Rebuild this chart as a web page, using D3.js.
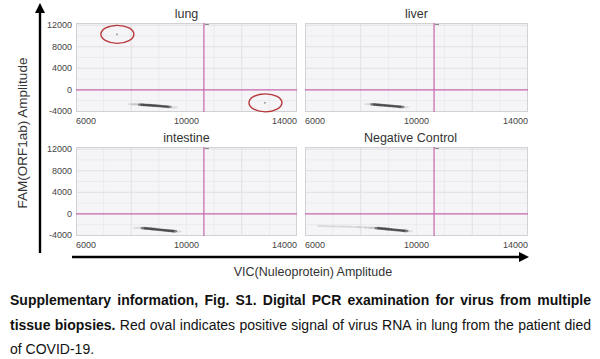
<!DOCTYPE html>
<html><head><meta charset="utf-8">
<script src="https://cdn.jsdelivr.net/npm/d3@7"></script>
<style>
body{margin:0;background:#fff}
svg{display:block}
text{font-family:"Liberation Sans",Arial,Helvetica,sans-serif}
</style>
</head><body>
<svg id="c" width="600" height="359"></svg>
<script>
// ---------- data ----------
const panelNames = ["lung", "liver", "intestine", "Negative Control"];
const xTickValues = [6000, 10000, 14000];
const yTickValues = [12000, 8000, 4000, 0, -4000];
const xDomain = [6000, 14000];
const yDomain = [-4100, 12400];
const xGridMajor = [8000, 12000];
const xGridMinor = [7000, 9000, 10000, 11000, 13000];
const yGridMajor = [12000, 8000, 4000, -4000];
const yGridMinor = [10000, 6000, 2000, -2000];
const thresholdVIC = [10630, 10630, 10630, 10630];
const thresholdFAM = [0, 0, 0, 0];
// dense negative droplet clusters (VIC, FAM)
const lungCore = [[8350,-2750],[8450,-2780],[8550,-2810],[8650,-2850],[8750,-2880],[8850,-2920],[8950,-2960],[9050,-3000],[9150,-3040],[9250,-3090],[9350,-3140]];
const liverCore = [[8450,-2700],[8550,-2740],[8650,-2780],[8750,-2830],[8850,-2870],[8950,-2920],[9050,-2960],[9150,-3010],[9250,-3050],[9350,-3100],[9450,-3150]];
const intestineCore = [[8450,-2650],[8550,-2700],[8650,-2750],[8750,-2800],[8850,-2850],[8950,-2900],[9050,-2950],[9150,-3000],[9250,-3060],[9350,-3110],[9450,-3160],[9550,-3220]];
const negativeCore = [[8600,-2650],[8700,-2700],[8800,-2750],[8900,-2800],[9000,-2850],[9100,-2900],[9200,-2950],[9300,-3000],[9400,-3050],[9500,-3100],[9600,-3150]];
// sparse "rain" droplets
const lungRain = [[8050,-2650],[8200,-2700],[9500,-3250]];
const liverRain = [[8300,-2650],[9550,-3200]];
const intestineRain = [[8250,-2600],[9650,-3280]];
const negativeRain = [[6600,-2250],[6900,-2300],[7200,-2340],[7500,-2380],[7800,-2430],[8050,-2480],[8300,-2550],[8450,-2600],[9680,-3200]];
// positive droplets (circled in red), lung only
const lungPositive = [[7480,10300],[12840,-2400]];
const coreByPanel = [lungCore, liverCore, intestineCore, negativeCore];
const rainByPanel = [lungRain, liverRain, intestineRain, negativeRain];
const positiveByPanel = [lungPositive, [], [], []];
const yAxisTitle = "FAM(ORF1ab) Amplitude";
const xAxisTitle = "VIC(Nuleoprotein) Amplitude";
const captionLines = [
  [{t:"Supplementary information, Fig. S1. Digital PCR examination for virus from multiple", b:true}],
  [{t:"tissue biopsies.", b:true},{t:"Red oval indicates positive signal of virus RNA in lung from the patient died", b:false}],
  [{t:"of COVID-19.", b:false}]
];

// ---------- layout ----------
const svg = d3.select("#c");
const colRanges = [[76, 297], [305, 528]];
const rowRanges = [[112, 23], [236, 147]];
const magenta = "#c566ad";

panelNames.forEach((name, i) => {
  const col = i % 2, row = Math.floor(i / 2);
  const x = d3.scaleLinear().domain(xDomain).range(colRanges[col]);
  const y = d3.scaleLinear().domain(yDomain).range(rowRanges[row]);
  const g = svg.append("g");
  const [x0, x1] = colRanges[col], [yb, yt] = rowRanges[row];

  g.append("rect").attr("x", x0).attr("y", yt).attr("width", x1 - x0).attr("height", yb - yt)
    .attr("fill", "#f5f4f6");
  // grid
  g.selectAll(".gxm").data(xGridMinor).join("line")
    .attr("x1", d => x(d)).attr("x2", d => x(d)).attr("y1", yt).attr("y2", yb)
    .attr("stroke", "#eceaee").attr("stroke-width", 1);
  g.selectAll(".gym").data(yGridMinor).join("line")
    .attr("y1", d => y(d)).attr("y2", d => y(d)).attr("x1", x0).attr("x2", x1)
    .attr("stroke", "#eceaee").attr("stroke-width", 1);
  g.selectAll(".gxM").data(xGridMajor).join("line")
    .attr("x1", d => x(d)).attr("x2", d => x(d)).attr("y1", yt).attr("y2", yb)
    .attr("stroke", "#e1dfe3").attr("stroke-width", 1);
  g.selectAll(".gyM").data(yGridMajor).join("line")
    .attr("y1", d => y(d)).attr("y2", d => y(d)).attr("x1", x0).attr("x2", x1)
    .attr("stroke", "#e1dfe3").attr("stroke-width", 1);
  g.append("rect").attr("x", x0 + 0.5).attr("y", yt + 0.5).attr("width", x1 - x0 - 1).attr("height", yb - yt - 1)
    .attr("fill", "none").attr("stroke", "#d3d1d5");

  // droplets
  g.selectAll(".rain").data(rainByPanel[i]).join("ellipse")
    .attr("cx", d => x(d[0])).attr("cy", d => y(d[1]))
    .attr("rx", 5).attr("ry", 1.1)
    .attr("fill", "#333").attr("fill-opacity", 0.13);
  g.selectAll(".core").data(coreByPanel[i]).join("ellipse")
    .attr("cx", d => x(d[0])).attr("cy", d => y(d[1]))
    .attr("rx", 3.2).attr("ry", 1.4)
    .attr("fill", "#000").attr("fill-opacity", 0.42);
  g.selectAll(".pos").data(positiveByPanel[i]).join("circle")
    .attr("cx", d => x(d[0])).attr("cy", d => y(d[1])).attr("r", 0.9)
    .attr("fill", "#8a8a8a");

  // thresholds
  g.append("line").attr("x1", x0).attr("x2", x1)
    .attr("y1", y(thresholdFAM[i])).attr("y2", y(thresholdFAM[i]))
    .attr("stroke", magenta).attr("stroke-width", 1.2);
  g.append("line").attr("x1", x(thresholdVIC[i])).attr("x2", x(thresholdVIC[i]))
    .attr("y1", yt).attr("y2", yb)
    .attr("stroke", magenta).attr("stroke-width", 1.2);
  g.append("line").attr("x1", x(thresholdVIC[i]) + 1).attr("x2", x(thresholdVIC[i]) + 5)
    .attr("y1", yt + 1.5).attr("y2", yt + 1.5)
    .attr("stroke", "#8a8a8a").attr("stroke-width", 1);

  // red ovals around positives
  g.selectAll(".oval").data(positiveByPanel[i]).join("ellipse")
    .attr("cx", d => x(d[0]) + 0.5).attr("cy", d => y(d[1]))
    .attr("rx", 16.5).attr("ry", 9)
    .attr("fill", "none").attr("stroke", "#b8383c").attr("stroke-width", 1.4);

  // x tick labels
  g.selectAll(".xt").data(xTickValues).join("text")
    .attr("x", d => x(d)).attr("y", yb + 12)
    .attr("text-anchor", (d, j) => j === 0 ? "start" : (j === xTickValues.length - 1 ? "end" : "middle"))
    .attr("font-size", 9).attr("fill", "#444").text(d => d);
  // y tick labels (left column only)
  if (col === 0) {
    g.selectAll(".yt").data(yTickValues).join("text")
      .attr("x", x0 - 4).attr("y", d => y(d) + 3)
      .attr("text-anchor", "end").attr("font-size", 9).attr("fill", "#444").text(d => d);
  }
  // title
  g.append("text").attr("x", (x0 + x1) / 2 + (col === 1 && row === 1 ? -6 : 0)).attr("y", yt - 5)
    .attr("text-anchor", "middle").attr("font-size", 12.5).attr("fill", "#333").text(name);
});

// axis arrows
const defs = svg.append("defs");
defs.append("marker").attr("id", "ah").attr("viewBox", "0 0 10 10").attr("refX", 1).attr("refY", 5)
  .attr("markerWidth", 4.2).attr("markerHeight", 4.2).attr("orient", "auto")
  .append("path").attr("d", "M0,0 L10,5 L0,10 Z").attr("fill", "#000");
svg.append("line").attr("x1", 40).attr("y1", 253).attr("x2", 40).attr("y2", 12)
  .attr("stroke", "#000").attr("stroke-width", 2.4).attr("marker-end", "url(#ah)");
svg.append("line").attr("x1", 72).attr("y1", 257).attr("x2", 520).attr("y2", 257)
  .attr("stroke", "#000").attr("stroke-width", 2.4).attr("marker-end", "url(#ah)");

svg.append("text").attr("transform", "translate(27,133) rotate(-90)")
  .attr("text-anchor", "middle").attr("font-size", 13.5).attr("fill", "#333").text(yAxisTitle);
svg.append("text").attr("x", 313).attr("y", 276)
  .attr("text-anchor", "middle").attr("font-size", 12.5).attr("fill", "#333").text(xAxisTitle);

// caption (justified lines)
const capLeft = 10, capRight = 591, capSize = 14;
const baselines = [305, 330, 354];
captionLines.forEach((segs, li) => {
  const words = [];
  segs.forEach(s => s.t.split(" ").forEach(w => words.push({w, b: s.b})));
  const nodes = words.map(o => svg.append("text").attr("y", baselines[li]).attr("font-size", capSize)
    .attr("font-weight", o.b ? "bold" : "normal").attr("fill", "#111").text(o.w));
  const widths = nodes.map(n => n.node().getComputedTextLength());
  const total = d3.sum(widths);
  const justify = li < captionLines.length - 1;
  const gap = justify ? (capRight - capLeft - total) / (words.length - 1) : capSize * 0.28;
  let cx = capLeft;
  nodes.forEach((n, k) => { n.attr("x", cx); cx += widths[k] + gap; });
});
</script>
</body></html>
